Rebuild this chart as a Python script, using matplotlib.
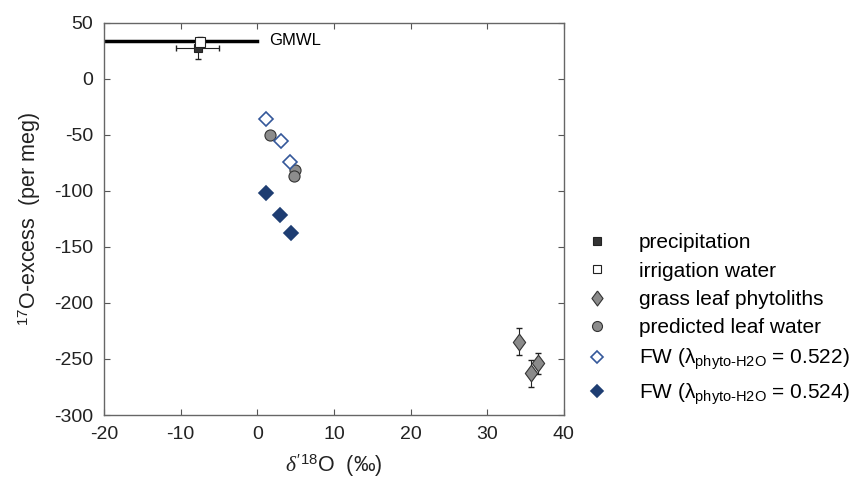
import numpy as np
import matplotlib.pyplot as plt

plt.rcParams['font.family'] = ['Liberation Sans', 'DejaVu Sans']
plt.rcParams['mathtext.fontset'] = 'custom'
plt.rcParams['mathtext.rm'] = 'Liberation Sans'
plt.rcParams['mathtext.it'] = 'Liberation Serif:italic'
plt.rcParams['axes.unicode_minus'] = False

# GMWL reference line
gmwl_x = [-20, 0]
gmwl_y = [33.9, 33.9]

# precipitation / irrigation water
precip_x = [-7.8]
precip_y = [27.1]
precip_xerr = [2.8]
precip_yerr = [9.5]
irrig_x = [-7.5]
irrig_y = [32.5]
irrig_yerr = [4.5]

# grass leaf phytoliths
phyto_x = [34.2, 36.6, 35.7]
phyto_y = [-234.6, -253.9, -262.8]
phyto_yerr = [12, 9.5, 12]

# predicted leaf water
leaf_x = [1.65, 4.87, 4.8]
leaf_y = [-50, -81, -87]

# FW for two lambda values
fw522_x = [1.13, 3.1, 4.3]
fw522_y = [-36, -56, -74]
fw524_x = [1.17, 3.0, 4.35]
fw524_y = [-102, -122, -138]

fig = plt.figure(figsize=(8.5, 4.82), dpi=100)
ax = fig.add_axes([0.1224, 0.139, 0.541, 0.814])

ax.plot(gmwl_x, gmwl_y, color='black', lw=2.5, zorder=2)
ax.text(1.6, 33.9, 'GMWL', fontsize=12, va='center', ha='left')

# error bars
ax.errorbar(precip_x, precip_y, xerr=precip_xerr, yerr=precip_yerr, fmt='none',
            ecolor='#222222', elinewidth=0.8, capsize=2.5, zorder=3)
ax.errorbar(irrig_x, irrig_y, yerr=irrig_yerr, fmt='none',
            ecolor='#222222', elinewidth=0.8, capsize=2.5, zorder=3)
ax.errorbar(phyto_x, phyto_y, yerr=phyto_yerr, fmt='none',
            ecolor='#222222', elinewidth=0.8, capsize=2.5, zorder=3)

# markers
ax.plot(precip_x, precip_y, 's', ms=6, mfc='#333333', mec='#222222', mew=0.8,
        label='precipitation', zorder=4)
ax.plot(irrig_x, irrig_y, 's', ms=6.5, mfc='white', mec='#222222', mew=0.8,
        label='irrigation water', zorder=5)
phyto_marker = [(0, 1), (0.74, 0), (0, -1), (-0.74, 0), (0, 1)]
ax.plot(phyto_x, phyto_y, marker=phyto_marker, ls='none', ms=12, mfc='#8a8a8a',
        mec='#333333', mew=0.8, label='grass leaf phytoliths', zorder=4)
ax.plot(leaf_x, leaf_y, 'o', ms=8, mfc='#8c8c8c', mec='#333333', mew=0.8,
        label='predicted leaf water', zorder=4)
ax.plot(fw522_x, fw522_y, 'D', ms=7, mfc='white', mec='#34589a', mew=1.2,
        label=r'FW ($\mathrm{\lambda}_{\mathrm{phyto\text{-}H2O}}$ = 0.522)', zorder=5)
ax.plot(fw524_x, fw524_y, 'D', ms=7, mfc='#1e3d72', mec='#1e3d72', mew=1.2,
        label=r'FW ($\mathrm{\lambda}_{\mathrm{phyto\text{-}H2O}}$ = 0.524)', zorder=5)

ax.set_xlim(-20, 40)
ax.set_ylim(-300, 50)
ax.set_xticks(np.arange(-20, 41, 10))
ax.set_yticks(np.arange(-300, 51, 50))
ax.tick_params(direction='in', length=4, width=0.8, color='#555555', pad=8,
               top=True, right=True, labelsize=14, colors='#222222')
for sp in ax.spines.values():
    sp.set_color('#666666')
    sp.set_linewidth(1.0)

ax.set_xlabel(r"$\mathit{\delta}'^{18}$O  (‰)", fontsize=15.5, color='#222222', labelpad=7)
ax.set_ylabel(r"$^{17}$O-excess  (per meg)", fontsize=15.5, color='#222222', labelpad=8)

ax.legend(loc='upper left', bbox_to_anchor=(0.69, 0.516), bbox_transform=fig.transFigure,
          frameon=False, fontsize=15, handlelength=1.0, handletextpad=1.5,
          labelspacing=0.45, borderpad=0, borderaxespad=0, markerscale=0.9)

fig.savefig('out.png', dpi=100)
